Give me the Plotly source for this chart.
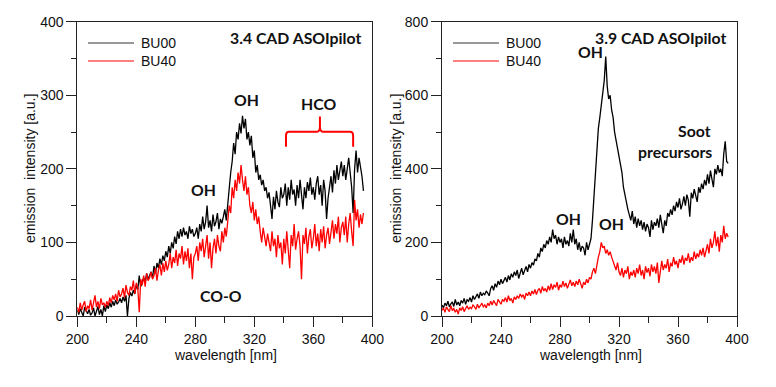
import plotly.graph_objects as go

# wavelength grid [nm], one value per nm
wavelength = list(range(200, 395))

# 3.4 CAD ASOIpilot
left_bu00 = [
    8, 2, 10, 5, 0, 12, 6, 3, 9, 1,
    4, 11, 0, 7, 13, 2, 9, 0, 14, 6,
    15, 10, 18, 12, 20, 14, 22, 16, 19, 24,
    18, 26, 20, 28, 0, 24, 32, 27, 35, 30,
    42, 36, 55, 40, 48, 52, 45, 58, 50, 55,
    60, 52, 68, 58, 72, 65, 78, 70, 82, 75,
    88, 80, 95, 85, 100, 92, 108, 98, 115, 105,
    118, 108, 120, 110, 115, 105, 122, 112, 118, 108,
    112, 120, 105, 125, 115, 135, 118, 128, 150, 120,
    130, 115, 138, 122, 128, 140, 118, 132, 126, 135,
    145, 130, 155, 175, 195, 210, 235, 220, 250, 240,
    262, 248, 272, 255, 268, 240, 250, 232, 245, 215,
    225, 195, 205, 185, 192, 178, 185, 170, 175, 160,
    168, 150, 132, 162, 145, 170, 155, 148, 175, 160,
    165, 180, 150, 175, 158, 185, 165, 172, 150, 178,
    160, 185, 168, 145, 175, 160, 182, 170, 188, 165,
    175, 158, 180, 190, 165, 178, 150, 185, 170, 132,
    160, 175, 190, 168, 198, 180, 205, 185, 195, 210,
    190, 205, 185, 200, 215, 195, 175, 140, 200, 225,
    195, 215, 205, 190, 170,
]
left_bu40 = [
    12, 5, 18, 8, 15, 20, 6, 14, 10, 22,
    8, 16, 28, 12, 20, 10, 24, 15, 18, 12,
    20, 14, 25, 18, 28, 22, 30, 20, 35, 26,
    30, 38, 25, 42, 32, 28, 40, 35, 48, 30,
    45, 38, 5, 50, 42, 55, 40, 58, 48, 52,
    60, 50, 55, 65, 48, 62, 70, 55, 72, 60,
    75, 62, 70, 85, 65, 80, 72, 90, 68, 85,
    78, 95, 70, 88, 75, 92, 65, 85, 50, 80,
    85, 95, 75, 100, 88, 105, 80, 95, 110, 78,
    100, 65, 92, 105, 85, 110, 95, 88, 115, 100,
    120, 108, 130, 150, 140, 175, 160, 185, 170, 195,
    180, 205, 185, 170, 190, 165, 175, 150, 140, 155,
    130, 145, 125, 135, 115, 100, 120, 108, 95, 112,
    100, 88, 115, 95, 105, 80, 110, 92, 100, 70,
    105, 85, 115, 92, 65, 110, 95, 125, 90, 105,
    115, 95, 50, 110, 98, 120, 85, 108, 118, 92,
    105, 125, 95, 112, 88, 118, 100, 122, 92, 110,
    120, 98, 115, 130, 105, 125, 112, 135, 100, 120,
    128, 110, 135, 100, 125, 140, 115, 95, 158, 130,
    145, 120, 138, 125, 140,
]

# 3.9 CAD ASOIpilot
right_bu00 = [
    30, 22, 35, 28, 40, 25, 33, 38, 26, 45,
    30, 38, 28, 42, 35, 48, 32, 44, 40, 50,
    38, 55, 45, 52, 60, 48, 65, 55, 62, 58,
    68, 62, 55, 75, 82, 70, 88, 78, 95, 85,
    100, 88, 95, 105, 92, 110, 98, 115, 105, 120,
    110, 125, 102, 118, 130, 112, 125, 135, 120, 140,
    130, 145, 138, 155, 150, 170, 160, 185, 175, 195,
    185, 205, 195, 215, 200, 235, 210, 220, 195, 215,
    200, 210, 185, 215, 195, 205, 190, 225, 200, 235,
    195, 210, 180, 200, 175, 190, 185, 165, 200, 180,
    195, 210, 260, 330, 390, 450, 510, 540, 570, 610,
    640, 705, 625, 590, 600, 560, 540, 500, 480, 450,
    430, 410, 390, 350, 330, 300, 290, 275, 260, 285,
    250, 270, 240, 265, 245, 260, 235, 255, 230, 250,
    240, 215, 260, 235, 255, 245, 265, 240, 275, 250,
    225, 260, 245, 280, 270, 290, 275, 300, 285, 310,
    295, 320, 290, 305, 325, 300, 330, 315, 270, 335,
    320, 345, 330, 310, 350, 335, 360, 345, 370, 355,
    385, 360, 395, 375, 350, 400, 385, 410, 390, 400,
    380, 440, 475, 420, 415,
]
right_bu40 = [
    15, 22, 10, 25, 18, 12, 28, 15, 20, 10,
    18, 5, 22, 15, 25, 12, 20, 28, 18, 24,
    20, 30, 25, 18, 32, 22, 28, 35, 25, 30,
    22, 35, 28, 40, 30, 42, 35, 28, 45, 38,
    32, 45, 40, 50, 38, 55, 42, 48, 35, 52,
    45, 55, 48, 60, 52, 58, 45, 62, 55, 65,
    55, 68, 60, 72, 58, 70, 75, 62, 80, 68,
    75, 65, 82, 70, 88, 72, 85, 78, 92, 70,
    85, 78, 95, 80, 90, 75, 88, 98, 82, 92,
    80, 95, 85, 100, 88, 75, 92, 85, 100, 90,
    105, 100, 120, 130, 115, 145, 160, 175, 200, 185,
    190, 170, 180, 165, 175, 160, 150, 140, 125, 145,
    120, 110, 130, 105, 125, 115, 135, 100, 120, 110,
    125, 105, 130, 115, 140, 110, 125, 100, 135, 118,
    130, 108, 140, 120, 135, 115, 145, 90, 130, 150,
    125, 140, 130, 155, 120, 145, 135, 160, 140, 150,
    130, 155, 145, 165, 140, 158, 150, 170, 145, 160,
    150, 175, 155, 170, 160, 180, 165, 185, 160, 175,
    195, 170, 210, 185, 200, 230, 190, 215, 175, 220,
    200, 245, 210, 225, 215,
]

W, H = 776, 387
BLACK = '#000000'
RED = '#ff0000'
TXT = '#111111'
AXIS_FONT = dict(family='Liberation Sans, Arial', size=14, color='#111')
LABEL_FONT = dict(family='Lato', size=15.8, color=TXT)


def px(x, y):
    """pixel position -> paper coordinates"""
    return x / W, 1 - y / H


fig = go.Figure()

for xa, ya, s0, s4 in [('x', 'y', left_bu00, left_bu40),
                       ('x2', 'y2', right_bu00, right_bu40)]:
    fig.add_trace(go.Scatter(x=wavelength, y=s0, mode='lines', xaxis=xa, yaxis=ya,
                             line=dict(color=BLACK, width=1.3), name='BU00'))
    fig.add_trace(go.Scatter(x=wavelength, y=s4, mode='lines', xaxis=xa, yaxis=ya,
                             line=dict(color=RED, width=1.3), name='BU40'))

y_dom = [1 - 316 / H, 1 - 21.7 / H]
common_x = dict(range=[200, 400], tick0=200, dtick=40, ticks='outside', ticklen=10,
                tickcolor='#222', showline=True, linecolor='#222', mirror=True,
                showgrid=False, zeroline=False, tickfont=AXIS_FONT, automargin=False,
                minor=dict(dtick=20, ticks='outside', ticklen=6, tickcolor='#222'))
common_y = dict(ticks='outside', ticklen=10, tickcolor='#222', showline=True,
                linecolor='#222', mirror=True, showgrid=False, zeroline=False,
                tickfont=AXIS_FONT, domain=y_dom, automargin=False)

fig.update_layout(
    width=W, height=H, autosize=False,
    margin=dict(l=0, r=0, t=0, b=0),
    paper_bgcolor='white', plot_bgcolor='white',
    showlegend=False,
    xaxis=dict(common_x, domain=[77.3 / W, 372.3 / W], anchor='y'),
    xaxis2=dict(common_x, domain=[442 / W, 737 / W], anchor='y2'),
    yaxis=dict(common_y, range=[0, 400], dtick=100, anchor='x',
               minor=dict(dtick=50, ticks='outside', ticklen=5, tickcolor='#222')),
    yaxis2=dict(common_y, range=[0, 800], dtick=200, anchor='x2',
                minor=dict(dtick=100, ticks='outside', ticklen=5, tickcolor='#222')),
)

shapes = []
annotations = []

# axis titles
for cx, ycx in ((225, 30), (590, 396)):
    ax, ay = px(cx, 355)
    annotations.append(dict(x=ax, y=ay, xref='paper', yref='paper', showarrow=False,
                            text='wavelength [nm]', font=AXIS_FONT,
                            xanchor='center', yanchor='middle'))
    bx, by = px(ycx, 169)
    annotations.append(dict(x=bx, y=by, xref='paper', yref='paper', showarrow=False,
                            text='emission\u00a0\u00a0intensity [a.u.]', font=AXIS_FONT,
                            textangle=-90, xanchor='center', yanchor='middle'))

# hand drawn legends, one per panel
for lx in (88, 453):
    for ly, col, name in ((43, '#333', 'BU00'), (61, RED, 'BU40')):
        ax, ay = px(lx, ly)
        bx, _ = px(lx + 46, ly)
        shapes.append(dict(type='line', xref='paper', yref='paper', x0=ax, x1=bx,
                           y0=ay, y1=ay, line=dict(color=col, width=1)))
        tx, _ = px(lx + 51, ly)
        annotations.append(dict(x=tx, y=ay, xref='paper', yref='paper', text=name,
                                showarrow=False, xanchor='left', yanchor='middle',
                                font=AXIS_FONT))

# red brace over the HCO band
shapes.append(dict(
    type='path', xref='x', yref='y',
    path=('M 341.5 230 L 341.5 245 Q 341.5 250.5 343.5 250.5 L 362.5 250.5 '
          'Q 364.5 250.5 364.5 258 L 364.5 271 M 364.5 258 '
          'Q 364.5 250.5 366.5 250.5 L 385 250.5 Q 387 250.5 387 245 L 387 230'),
    line=dict(color=RED, width=2)))

labels = [
    # text, pixel x, pixel y, anchor
    ('3.4 CAD ASOIpilot', 363, 37, 'right'),
    ('OH', 247, 99, 'center'),
    ('HCO', 318, 104, 'center'),
    ('OH', 203, 189, 'center'),
    ('CO-O', 221, 295, 'center'),
    ('3.9 CAD ASOIpilot', 728, 37, 'right'),
    ('OH', 590, 52, 'center'),
    ('Soot', 713, 130, 'right'),
    ('precursors', 714, 151, 'right'),
    ('OH', 568, 218, 'center'),
    ('OH', 611, 223, 'center'),
]
for text, lx, ly, anc in labels:
    ax, ay = px(lx, ly)
    annotations.append(dict(x=ax, y=ay, xref='paper', yref='paper',
                            text='<b>%s</b>' % text, showarrow=False,
                            xanchor=anc, yanchor='middle', font=LABEL_FONT))

fig.update_layout(shapes=shapes, annotations=annotations)

# drop the default 8px page margin so the figure sits at the window corner
fig.write_html("out.html", config={'displayModeBar': False},
               post_script="document.body.style.margin='0';")
